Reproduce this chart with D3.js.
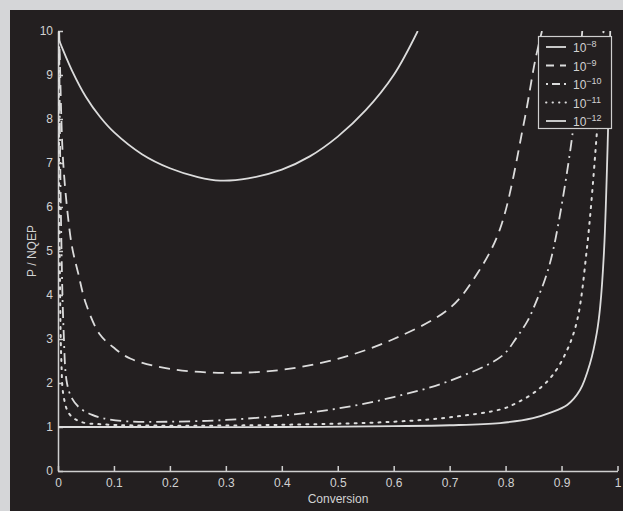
<!DOCTYPE html>
<html><head><meta charset="utf-8">
<script src="https://cdn.jsdelivr.net/npm/d3@7"></script>
<style>
html,body{margin:0;padding:0;background:#d5d6d8;}
svg{display:block;}
text{font-family:"Liberation Sans",Arial,Helvetica,sans-serif;fill:#d2d2d2;}
</style></head>
<body>
<svg id="chart" width="623" height="511"></svg>
<script>
// ---- data ----
const xTicks = [0,0.1,0.2,0.3,0.4,0.5,0.6,0.7,0.8,0.9,1];
const xTickLabels = ["0","0.1","0.2","0.3","0.4","0.5","0.6","0.7","0.8","0.9","1"];
const yTicks = [0,1,2,3,4,5,6,7,8,9,10];
const seriesNames = ["−8","−9","−10","−11","−12"];

const x_e8 = [0,0.025,0.05,0.075,0.1,0.15,0.2,0.25,0.29,0.34,0.4,0.45,0.5,0.55,0.6,0.643];
const y_e8 = [9.85,9.1,8.5,8.05,7.7,7.2,6.88,6.68,6.6,6.65,6.85,7.15,7.6,8.2,9.0,10];

const x_e9 = [0.002,0.004,0.006,0.009,0.016,0.025,0.036,0.05,0.075,0.1,0.13,0.2,0.3,0.4,0.5,0.6,0.7,0.75,0.79,0.833,0.853,0.865];
const y_e9 = [10,9,8.0,7.07,6.0,5.1,4.5,3.8,3.1,2.8,2.55,2.32,2.23,2.3,2.55,3.0,3.7,4.5,5.5,7.93,9.34,10];

const x_e10 = [0.002,0.005,0.01,0.016,0.025,0.039,0.06,0.08,0.123,0.2,0.3,0.4,0.5,0.6,0.7,0.793,0.819,0.84,0.856,0.87,0.885,0.92,0.937];
const y_e10 = [10,6,3.2,2.0,1.65,1.43,1.28,1.2,1.13,1.12,1.16,1.26,1.42,1.68,2.05,2.61,3.02,3.43,3.89,4.34,5.02,7.7,10];

const x_e11 = [0.001,0.003,0.006,0.01,0.02,0.04,0.08,0.2,0.4,0.6,0.7,0.794,0.82,0.853,0.883,0.91,0.928,0.945,0.962,0.975];
const y_e11 = [10,5,2.5,1.7,1.3,1.12,1.06,1.03,1.05,1.12,1.22,1.41,1.55,1.8,2.16,2.75,3.43,5.02,7.5,10];

const x_e12 = [0,0.2,0.4,0.6,0.7,0.79,0.849,0.879,0.91,0.933,0.951,0.963,0.969,0.976,0.983,0.987];
const y_e12 = [1.0,1.0,1.0,1.02,1.04,1.09,1.2,1.32,1.5,1.84,2.45,3.14,3.73,5.02,7.7,10];

// ---- styles ----
const lineColor = "#dcdcdc";
const axisColor = "#cfcfcf";
const dashes = ["none","11,7","11,5,2,5","2,6","none"];

const svg = d3.select("#chart");
svg.append("rect").attr("x",10).attr("y",10).attr("width",613).attr("height",501).attr("fill","#231f20");

const x = d3.scaleLinear().domain([0,1]).range([58,617.5]);
const y = d3.scaleLinear().domain([0,10]).range([471,31]);

svg.append("defs").append("clipPath").attr("id","clip")
  .append("rect").attr("x",58).attr("y",31).attr("width",560).attr("height",440);

// axes
const xAxis = d3.axisBottom(x).tickValues(xTicks).tickFormat((d,i)=>xTickLabels[i]).tickSizeInner(-5).tickSizeOuter(0).tickPadding(7);
const yAxis = d3.axisLeft(y).tickValues(yTicks).tickFormat(d3.format("d")).tickSizeInner(-5).tickSizeOuter(0).tickPadding(5);
const gx = svg.append("g").attr("transform","translate(0,471)").call(xAxis);
const gy = svg.append("g").attr("transform","translate(58,0)").call(yAxis);
[gx,gy].forEach(g=>{
  g.select(".domain").attr("stroke",axisColor).attr("stroke-width",1.5);
  g.selectAll(".tick line").attr("stroke",axisColor).attr("stroke-width",1.5);
  g.selectAll(".tick text").attr("fill","#d2d2d2").style("font-size","12px").style("font-family","'Liberation Sans',Arial,sans-serif");
});

// axis labels
svg.append("text").attr("x",338).attr("y",503).attr("text-anchor","middle").style("font-size","12px").text("Conversion");
svg.append("text").attr("transform","translate(36,251) rotate(-90)").attr("text-anchor","middle").style("font-size","12px").text("P / NQEP");

// lines
const series = [[x_e8,y_e8],[x_e9,y_e9],[x_e10,y_e10],[x_e11,y_e11],[x_e12,y_e12]];
const line = d3.line().x(d=>x(d[0])).y(d=>y(d[1])).curve(d3.curveCatmullRom.alpha(0.5));
const plot = svg.append("g").attr("clip-path","url(#clip)");
series.forEach((s,i)=>{
  const pts = s[0].map((v,j)=>[v,s[1][j]]);
  plot.append("path").attr("d",line(pts)).attr("fill","none")
    .attr("stroke",lineColor).attr("stroke-width",i===3?2:1.8)
    .attr("stroke-linecap",i===3?"round":"butt")
    .attr("stroke-dasharray",dashes[i]);
});

// legend
const lg = svg.append("g");
lg.append("rect").attr("x",538.5).attr("y",36.5).attr("width",73).attr("height",92)
  .attr("fill","#231f20").attr("stroke",axisColor).attr("stroke-width",1.2);
seriesNames.forEach((n,i)=>{
  const yy = 47 + i*18.5;
  lg.append("line").attr("x1",546).attr("x2",566).attr("y1",yy).attr("y2",yy)
    .attr("stroke",lineColor).attr("stroke-width",1.8)
    .attr("stroke-linecap",i===3?"round":"butt")
    .attr("stroke-dasharray",i===3?"0.5,6":(i===1?"8,6":(i===2?"2,4,8,4":"none")));
  const t = lg.append("text").attr("x",573).attr("y",yy+5).style("font-size","12px");
  t.append("tspan").text("10");
  t.append("tspan").attr("dy",-5).style("font-size","9px").text(n);
});
</script>
</body></html>
